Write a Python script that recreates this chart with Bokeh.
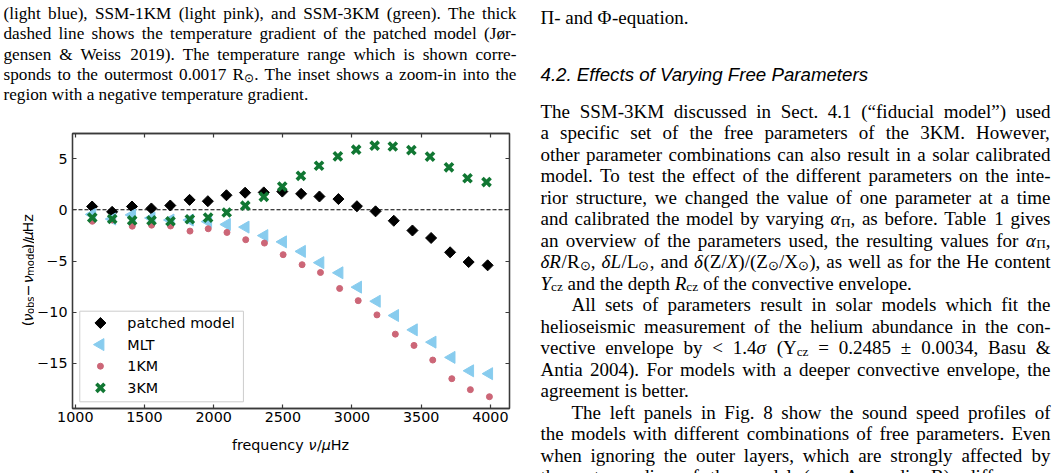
import numpy as np
from bokeh.plotting import figure
from bokeh.layouts import row, column
from bokeh.models import Range1d, LinearAxis, FixedTicker, Span, ColumnDataSource
from bokeh.core.properties import value
from bokeh.embed import file_html
from bokeh.resources import INLINE

# ---------------------------------------------------------------- data ----
# observed radial-mode frequencies (muHz)
nu_obs = [1122, 1266, 1410, 1550, 1687, 1827, 1959, 2094, 2229, 2364, 2498,
          2634, 2766, 2903, 3036, 3170, 3301, 3435, 3569, 3705, 3838, 3975]
# frequency differences nu_obs - nu_model (muHz)
dnu_patched = [0.32, -0.2, 0.32, 0.13, 0.42, 0.97, 0.84, 1.42, 1.67, 1.7, 1.78,
               1.56, 1.3, 1.05, 0.35, -0.15, -1.07, -2.02, -2.75, -4.15, -5.1, -5.42]
dnu_mlt = [-0.45, -0.9, -0.5, -0.8, -1.0, -1.0, -1.15, -1.43, -1.69, -2.52, -3.13,
           -4.06, -5.16, -6.15, -7.55, -8.93, -10.32, -11.72, -12.92, -14.41, -15.72, -16.0]
dnu_1km = [-1.12, -1.0, -1.6, -1.5, -1.58, -2.08, -1.85, -2.21, -2.92, -3.25, -4.38,
           -5.36, -6.12, -7.68, -8.87, -10.26, -12.14, -13.24, -14.67, -16.49, -17.56, -18.25]
dnu_3km = [-0.76, -0.9, -1.04, -1.04, -1.12, -0.92, -0.76, -0.26, 0.4, 1.27, 2.27,
           3.32, 4.3, 5.22, 5.87, 6.26, 6.18, 5.83, 5.19, 4.15, 3.08, 2.71]
series_labels = ["patched model", "MLT", "1KM", "3KM"]
x_ticks = [1000, 1500, 2000, 2500, 3000, 3500, 4000]
y_ticks = [-15, -10, -5, 0, 5]
y_tick_labels = ["\u221215", "\u221210", "\u22125", "0", "5"]

# ------------------------------------------------------------ page grid ----
W, H = 1058, 473
LEFT_W = 530            # width of the left column block
CAP_H = 110             # caption strip above the chart
YLAB_W = 34             # strip holding the rotated y title
XLAB_H = 43             # strip holding the x title
CHART_H = H - CAP_H - XLAB_H
FL, FR, FT, FB = 71, 509, 133, 408          # plot frame edges on the page
SPINE = "#3a3a3a"
CHART_FONT = "DejaVu Sans"
CH = 14.3                                   # chart text size (px)

origins = {}
canvases = {}


def text_canvas(name, x0, y0, w, h):
    f = figure(width=w, height=h, output_backend="svg", toolbar_location=None,
               x_range=Range1d(0, w), y_range=Range1d(h, 0), title=None,
               x_axis_type=None, y_axis_type=None, min_border=0,
               outline_line_color=None, background_fill_color="white",
               border_fill_color="white")
    origins[name] = (x0, y0)
    canvases[name] = f
    return f


cap_fig = text_canvas("cap", 0, 0, LEFT_W, CAP_H)
ylab_fig = text_canvas("ylab", 0, CAP_H, YLAB_W, CHART_H)
xlab_fig = text_canvas("xlab", 0, CAP_H + CHART_H, LEFT_W, XLAB_H)
col_fig = text_canvas("col", LEFT_W, 0, W - LEFT_W, H)

# ---------------------------------------------------------------- chart ----
p = figure(width=LEFT_W - YLAB_W, height=CHART_H, output_backend="svg",
           toolbar_location=None, title=None,
           x_range=Range1d(979.8, 4138.4), y_range=Range1d(-19.40, 7.45),
           min_border_left=FL - YLAB_W, min_border_right=LEFT_W - FR,
           min_border_top=FT - CAP_H, min_border_bottom=CAP_H + CHART_H - FB,
           background_fill_color="white", border_fill_color="white")
p.grid.visible = False
p.outline_line_color = SPINE
p.outline_line_width = 1.3

bottom_ax, left_ax = p.below[0], p.left[0]
top_ax, right_ax = LinearAxis(), LinearAxis()
p.add_layout(top_ax, "above")
p.add_layout(right_ax, "right")
for ax in (bottom_ax, left_ax, top_ax, right_ax):
    ax.major_tick_in = 4
    ax.major_tick_out = 0
    ax.minor_tick_in = 0
    ax.minor_tick_out = 0
    ax.axis_line_color = SPINE
    ax.axis_line_width = 1.3
    ax.major_tick_line_color = SPINE
    ax.major_tick_line_width = 1.2
    ax.major_label_text_font = CHART_FONT
    ax.major_label_text_font_size = f"{CH}px"
    ax.major_label_text_color = "black"
for ax in (bottom_ax, top_ax):
    ax.ticker = FixedTicker(ticks=x_ticks, minor_ticks=[])
for ax in (left_ax, right_ax):
    ax.ticker = FixedTicker(ticks=y_ticks, minor_ticks=[])
left_ax.major_label_overrides = dict(zip(y_ticks, y_tick_labels))
bottom_ax.major_label_standoff = 3
left_ax.major_label_standoff = 5
for ax in (top_ax, right_ax):
    ax.major_label_text_font_size = "0px"
    ax.major_label_text_color = None
    ax.major_label_standoff = 0

p.add_layout(Span(location=0, dimension="width", line_color="black",
                  line_dash="4 2", line_width=1.1, level="underlay"))

styles = [
    dict(marker="square", angle=np.pi / 4, size=7.8, fill_color="black", line_color="black"),
    dict(marker="triangle", angle=np.pi / 2, size=12, fill_color="#88CCEE", line_color="#88CCEE"),
    dict(marker="circle", size=6, fill_color="#CC6677", line_color="#CC6677"),
    dict(marker="x", size=11.5, line_color="#117733", line_width=3.6),
]
series = [dnu_patched, dnu_mlt, dnu_1km, dnu_3km]

for d, st in zip(series, styles):
    # abscissa: model frequency
    p.scatter([n - v for n, v in zip(nu_obs, d)], d, **st)

# legend, laid out in frame pixels
FW, FH = FR - FL, FB - FT
p.extra_x_ranges = {"fx": Range1d(0, FW)}
p.extra_y_ranges = {"fy": Range1d(FH, 0)}
LEG_L, LEG_R, LEG_T, LEG_B = 7.3, 171.3, 177.7, 268.3
LEG_ROW0, LEG_DY, LEG_GX, LEG_TX = 189.5, 21.6, 28.0, 55.0
p.quad(left=[LEG_L], right=[LEG_R], top=[LEG_T], bottom=[LEG_B],
       x_range_name="fx", y_range_name="fy", fill_color="white", fill_alpha=0.8,
       line_color="#cccccc", line_width=1)
rows_y = [LEG_ROW0 + k * LEG_DY for k in range(len(series_labels))]
for k, st in enumerate(styles):
    p.scatter([LEG_GX], [rows_y[k]], x_range_name="fx", y_range_name="fy", **st)
p.text(x=[LEG_TX] * len(series_labels), y=rows_y, text=series_labels,
       x_range_name="fx", y_range_name="fy", text_font=value(CHART_FONT),
       text_font_size=f"{CH}px", text_color="black", text_baseline="middle",
       text_align="left")

# ---------------------------------------------------------------- text ----
groups = {}


def put(name, px, py, text, font, size, style="normal", angle=0.0):
    ox, oy = origins[name]
    key = (name, font, round(size, 2), style, angle)
    g = groups.setdefault(key, {"x": [], "y": [], "text": []})
    g["x"].append(px - ox)
    g["y"].append(py - oy)
    g["text"].append(text)


# serif advance widths (1/1000 em)
RM = {" ": 250, "(": 333, ")": 333, ",": 250, "-": 333, ".": 250, "/": 278, ":": 278,
      "&": 778, "<": 564, "=": 564, "\u00b1": 564, "\u201c": 444, "\u201d": 444,
      "\u00f8": 500, "\u03a0": 722, "\u03a6": 760, "\u2299": 840}
RM.update({c: 500 for c in "0123456789"})
RM.update(dict(A=722, B=667, C=667, D=722, E=611, F=556, G=722, H=722, I=333, J=389,
               K=722, L=611, M=889, N=722, O=722, P=556, Q=722, R=667, S=556, T=611,
               U=722, V=722, W=944, X=722, Y=722, Z=611))
RM.update(dict(a=444, b=500, c=444, d=500, e=444, f=333, g=500, h=500, i=278, j=278,
               k=500, l=278, m=778, n=500, o=500, p=500, q=500, r=333, s=389, t=278,
               u=500, v=500, w=722, x=500, y=500, z=444))
IT = {"R": 611, "L": 556, "X": 611, "Y": 556, "Z": 556,
      "\u03b1": 550, "\u03b4": 500, "\u03c3": 550}
SERIF = "Liberation Serif"
SUB = 0.7


def serif_w(s, style, size):
    tab = IT if style == "it" else RM
    return sum(tab.get(c, RM.get(c, 500)) for c in s) * size / 1000.0


def typeset(name, runs, x0, base, size, width=None, indent=0.0):
    """Place one line word by word; with a width the line is justified."""
    if isinstance(runs, str):
        runs = [(runs, "rm")]
    words = [[]]
    for txt, st in runs:
        for k, part in enumerate(txt.split(" ")):
            if k:
                words.append([])
            if part:
                words[-1].append((part, st))
    words = [w for w in words if w]

    def piece_w(t, st):
        return serif_w(t, "rm", size * SUB) if st == "sub" else serif_w(t, st, size)

    wws = [sum(piece_w(t, st) for t, st in w) for w in words]
    x = x0 + indent
    if width is not None and len(words) > 1:
        gap = (x0 + width - x - sum(wws)) / (len(words) - 1)
    else:
        gap = RM[" "] * size / 1000.0
    for w, ww in zip(words, wws):
        cx = x
        for t, st in w:
            if st == "sub":
                put(name, cx, base + 0.2 * size, t, SERIF, round(size * SUB, 2))
            elif st == "it":
                put(name, cx, base, t, SERIF, size, "italic")
            else:
                put(name, cx, base, t, SERIF, size)
            cx += piece_w(t, st)
        x += ww + gap


# figure caption (left column)
CAP, CAP_X, CAP_W, CAP_Y0, CAP_DY = 17.2, 3, 513, 13.0, 20.35
caption = [
    ("(light blue), SSM-1KM (light pink), and SSM-3KM (green). The thick", True),
    ("dashed line shows the temperature gradient of the patched model (J\u00f8r-", True),
    ("gensen & Weiss 2019). The temperature range which is shown corre-", True),
    ([("sponds to the outermost 0.0017 R", "rm"), ("\u2299", "sub"),
      (". The inset shows a zoom-in into the", "rm")], True),
    ("region with a negative temperature gradient.", False),
]
for i, (runs, just) in enumerate(caption):
    typeset("cap", runs, CAP_X, CAP_Y0 + i * CAP_DY, CAP, CAP_W if just else None)

# right column
BODY, COL_X, COL_W = 19.0, 540, 510
typeset("col", [("\u03a0", "rm"), ("- and ", "rm"), ("\u03a6", "rm"), ("-equation.", "rm")],
        COL_X, 17.0, BODY)
put("col", COL_X, 74.0, "4.2. Effects of Varying Free Parameters", "Liberation Sans",
    18.7, "italic")

B0, BDY, IND = 110.5, 21.5, 31
body = [
    ("The SSM-3KM discussed in Sect. 4.1 (\u201cfiducial model\u201d) used", True, 0),
    ("a specific set of the free parameters of the 3KM. However,", True, 0),
    ("other parameter combinations can also result in a solar calibrated", True, 0),
    ("model. To test the effect of the different parameters on the inte-", True, 0),
    ("rior structure, we changed the value of one parameter at a time", True, 0),
    ([("and calibrated the model by varying ", "rm"), ("\u03b1", "it"), ("\u03a0", "sub"),
      (", as before. Table 1 gives", "rm")], True, 0),
    ([("an overview of the parameters used, the resulting values for ", "rm"),
      ("\u03b1", "it"), ("\u03a0", "sub"), (",", "rm")], True, 0),
    ([("\u03b4R", "it"), ("/R", "rm"), ("\u2299", "sub"), (", ", "rm"),
      ("\u03b4L", "it"), ("/L", "rm"), ("\u2299", "sub"), (", and ", "rm"),
      ("\u03b4", "it"), ("(Z/", "rm"), ("X", "it"), (")/(Z", "rm"), ("\u2299", "sub"),
      ("/X", "rm"), ("\u2299", "sub"), ("), as well as for the He content", "rm")], True, 0),
    ([("Y", "it"), ("cz", "sub"), (" and the depth ", "rm"), ("R", "it"), ("cz", "sub"),
      (" of the convective envelope.", "rm")], False, 0),
    ("All sets of parameters result in solar models which fit the", True, IND),
    ("helioseismic measurement of the helium abundance in the con-", True, 0),
    ([("vective envelope by < 1.4", "rm"), ("\u03c3", "it"), (" (Y", "rm"), ("cz", "sub"),
      (" = 0.2485 \u00b1 0.0034, Basu &", "rm")], True, 0),
    ("Antia 2004). For models with a deeper convective envelope, the", True, 0),
    ("agreement is better.", False, 0),
    ("The left panels in Fig. 8 show the sound speed profiles of", True, IND),
    ("the models with different combinations of free parameters. Even", True, 0),
    ("when ignoring the outer layers, which are strongly affected by", True, 0),
    ("the outer radius of the model (see Appendix B), differences", True, 0),
]
for i, (runs, just, ind) in enumerate(body):
    typeset("col", runs, COL_X, B0 + i * BDY, BODY, COL_W if just else None, ind)

# axis titles with subscripts (sans-serif, chart style)
DV = {"(": .390, ")": .390, "/": .337, "\u03bd": .592, "\u03bc": .636, "H": .752,
      "z": .525, "o": .612, "b": .635, "s": .521, "m": .974, "d": .635, "e": .615,
      "l": .278, "\u2212": .838, "f": .352, "r": .411, "q": .635, "u": .634,
      "n": .634, "c": .550, "y": .592, " ": .318}


def math_pieces(name, pieces, cx0, cy0, rotated, place=True):
    s = 0.0
    for t, st in pieces:
        size = CH * SUB if st == "sub" else CH
        w = sum(DV.get(c, .6) for c in t) * size
        pad = 0.22 * CH if st == "op" else 0.0
        s += pad
        drop = 0.2 * CH if st == "sub" else 0.0
        if place:
            style = "italic" if st == "it" else "normal"
            if rotated:
                put(name, cx0 + drop, cy0 - s, t, CHART_FONT, size, style, np.pi / 2)
            else:
                put(name, cx0 + s, cy0 + drop, t, CHART_FONT, size, style)
        s += w + pad
    return s


ylab = [("(", "rm"), ("\u03bd", "it"), ("obs", "sub"), ("\u2212", "op"), ("\u03bd", "it"),
        ("model", "sub"), (")/", "rm"), ("\u03bc", "it"), ("Hz", "rm")]
yl_len = math_pieces("ylab", ylab, 0, 0, True, place=False)
math_pieces("ylab", ylab, 27.0, (FT + FB) / 2 + yl_len / 2, True)

xlab = [("frequency ", "rm"), ("\u03bd", "it"), ("/", "rm"), ("\u03bc", "it"), ("Hz", "rm")]
xl_len = math_pieces("xlab", xlab, 0, 0, False, place=False)
math_pieces("xlab", xlab, (FL + FR) / 2 - xl_len / 2, 444.5, False)

for (name, font, size, style, angle), g in groups.items():
    canvases[name].text(x="x", y="y", text="text", source=ColumnDataSource(g),
                        text_font=value(font), text_font_size=value(f"{size}px"),
                        text_font_style=style, angle=angle, text_color="black",
                        text_align="left", text_baseline="alphabetic")

page = row(column(cap_fig, row(ylab_fig, p, spacing=0), xlab_fig, spacing=0),
           col_fig, spacing=0)

open("out.html", "w").write(file_html(page, INLINE))
